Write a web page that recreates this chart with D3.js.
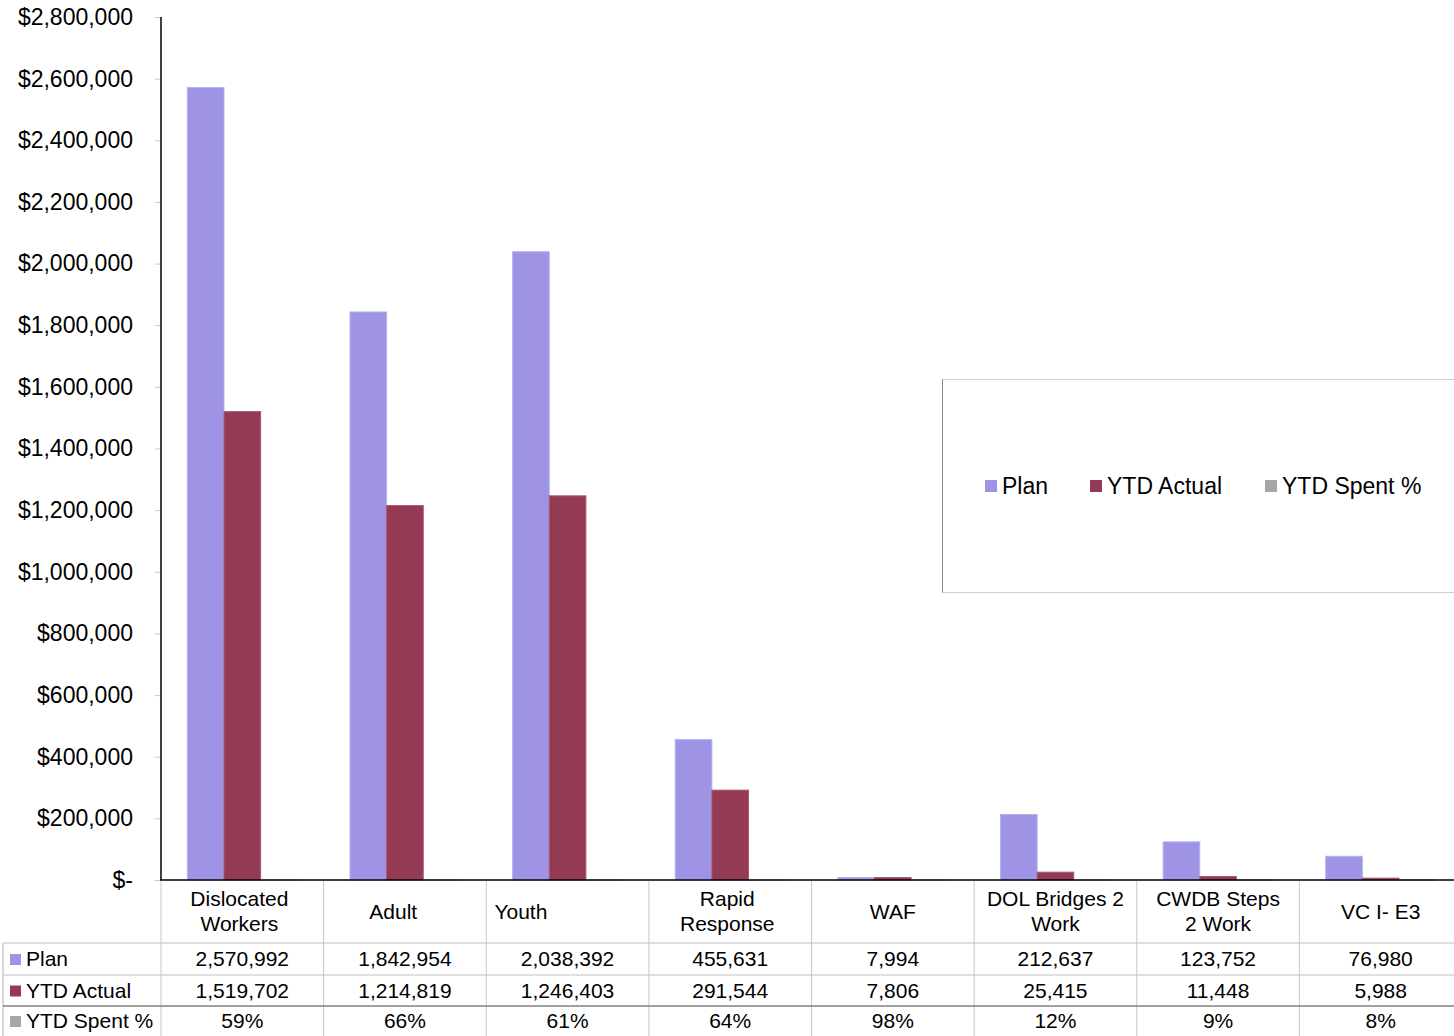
<!DOCTYPE html>
<html>
<head>
<meta charset="utf-8">
<script src="https://cdn.jsdelivr.net/npm/d3@7"></script>
<style>
  html, body { margin: 0; padding: 0; background: #fff; overflow: hidden; }
  svg { display: block; font-family: "Liberation Sans", Arial, sans-serif; }
  .cat-label { white-space: pre; }
</style>
</head>
<body>
<svg id="chart" width="1454" height="1036"></svg>
<script>
// Program budget data
const categories = ["Dislocated Workers", "Adult", "Youth", "Rapid Response", "WAF",
                    "DOL Bridges 2 Work", "CWDB Steps 2 Work", "VC I- E3"];
// header cell text as entered (some cells carry trailing blanks)
const categoryLines = [["Dislocated ", "Workers "], ["Adult    "], ["Youth                "],
                       ["Rapid ", "Response "], ["WAF"], ["DOL Bridges 2", "Work"],
                       ["CWDB Steps", "2 Work"], ["VC I- E3"]];
const planValues = [2570992, 1842954, 2038392, 455631, 7994, 212637, 123752, 76980];
const actualValues = [1519702, 1214819, 1246403, 291544, 7806, 25415, 11448, 5988];
const spentPct = [0.59, 0.66, 0.61, 0.64, 0.98, 0.12, 0.09, 0.08];
const seriesNames = ["Plan", "YTD Actual", "YTD Spent %"];
const yTicks = [0, 200000, 400000, 600000, 800000, 1000000, 1200000, 1400000,
                1600000, 1800000, 2000000, 2200000, 2400000, 2600000, 2800000];

const colors = { "Plan": "#9F93E6", "YTD Actual": "#953A54", "YTD Spent %": "#A6A6A6" };
const strokes = { "Plan": "#A9B8EA", "YTD Actual": "#A8576C", "YTD Spent %": "#BDBDBD" };

const svg = d3.select("#chart");
const plotLeft = 161, plotRight = 1462, plotTop = 17, plotBase = 880;
const viewRight = 1454;

const x0 = d3.scaleBand().domain(categories).range([plotLeft, plotRight]).paddingInner(0).paddingOuter(0);
const x1 = d3.scaleBand().domain(seriesNames).range([0, x0.bandwidth()]).paddingInner(0).paddingOuter(0.72);
const y = d3.scaleLinear().domain([0, 2800000]).range([plotBase, plotTop]);

const fmtMoney = v => v === 0 ? "$-" : "$" + d3.format(",")(v);
const fmtNum = d3.format(",");
const fmtPct = d3.format(".0%");

// Y axis
const yAxis = d3.axisLeft(y).tickValues(yTicks).tickFormat(fmtMoney).tickSize(6).tickPadding(22);
const gy = svg.append("g").attr("transform", `translate(${plotLeft},0)`).call(yAxis);
gy.select(".domain").remove();
gy.selectAll(".tick line").attr("stroke", "#c8c8c8");
gy.selectAll(".tick text").attr("font-size", 23).attr("fill", "#000")
  .attr("font-family", "'Liberation Sans', Arial, sans-serif");
svg.append("line").attr("x1", plotLeft).attr("x2", plotLeft).attr("y1", plotTop).attr("y2", plotBase)
  .attr("stroke", "#000").attr("stroke-width", 1.5);

// Bars
const rows = categories.map((c, i) => ({
  cat: c,
  values: [
    { s: "Plan", v: planValues[i] },
    { s: "YTD Actual", v: actualValues[i] },
    { s: "YTD Spent %", v: spentPct[i] }
  ]
}));
const groups = svg.append("g").selectAll("g").data(rows).join("g")
  .attr("transform", d => `translate(${x0(d.cat)},0)`);
groups.selectAll("rect").data(d => d.values).join("rect")
  .attr("x", d => x1(d.s))
  .attr("width", x1.bandwidth())
  .attr("y", d => y(d.v))
  .attr("height", d => Math.max(0, plotBase - y(d.v)))
  .attr("fill", d => colors[d.s])
  .attr("stroke", d => strokes[d.s])
  .attr("stroke-width", 1);

// X axis baseline
svg.append("line").attr("x1", plotLeft - 1).attr("x2", viewRight).attr("y1", plotBase).attr("y2", plotBase)
  .attr("stroke", "#000").attr("stroke-width", 1.5);

// Data table under the plot
const tableLeft = 3;
const rowY = [943, 975, 1006, 1036];
const tbl = svg.append("g");
// vertical grid lines
categories.forEach(c => {
  tbl.append("line").attr("x1", x0(c)).attr("x2", x0(c)).attr("y1", plotBase + 1).attr("y2", 1036)
    .attr("stroke", "#c8c8c8");
});
tbl.append("line").attr("x1", tableLeft).attr("x2", tableLeft).attr("y1", rowY[0]).attr("y2", 1036)
  .attr("stroke", "#b0b0b0");
// horizontal grid lines
rowY.slice(0, 3).forEach((ry, i) => {
  tbl.append("line").attr("x1", tableLeft).attr("x2", viewRight).attr("y1", ry).attr("y2", ry)
    .attr("stroke", i === 2 ? "#808080" : "#c0c0c0").attr("stroke-width", i === 2 ? 1.3 : 1);
});

// category labels (centred in their cells, blanks included)
categories.forEach((c, i) => {
  const lines = categoryLines[i];
  const cx = x0(c) + x0.bandwidth() / 2;
  const t = tbl.append("text")
    .attr("class", "cat-label")
    .attr("font-size", 21).attr("fill", "#000")
    .attr("text-anchor", "middle");
  const startY = lines.length === 1 ? 911.5 : 899;
  lines.forEach((ln, k) => {
    t.append("tspan")
      .attr("x", cx)
      .attr("y", startY + k * 25)
      .attr("dy", "0.35em")
      .text(ln);
  });
});

// table rows
const tableRows = [
  { name: "Plan", vals: planValues.map(fmtNum) },
  { name: "YTD Actual", vals: actualValues.map(fmtNum) },
  { name: "YTD Spent %", vals: spentPct.map(fmtPct) }
];
tableRows.forEach((r, i) => {
  const cy = (rowY[i] + rowY[i + 1]) / 2;
  tbl.append("rect").attr("x", 10).attr("y", cy - 5).attr("width", 11).attr("height", 11)
    .attr("fill", colors[r.name]);
  tbl.append("text").attr("x", 26).attr("y", cy).attr("dy", "0.35em")
    .attr("font-size", 21).attr("fill", "#000").text(r.name);
  r.vals.forEach((v, j) => {
    tbl.append("text").attr("x", x0(categories[j]) + x0.bandwidth() / 2).attr("y", cy)
      .attr("dy", "0.35em").attr("text-anchor", "middle")
      .attr("font-size", 21).attr("fill", "#000").text(v);
  });
});

// Legend
const lg = svg.append("g");
lg.append("rect").attr("x", 942.5).attr("y", 379.5).attr("width", 530).attr("height", 213)
  .attr("fill", "#fff").attr("stroke", "#cfcfcf");
lg.append("line").attr("x1", 942.5).attr("x2", 942.5).attr("y1", 379.5).attr("y2", 592.5)
  .attr("stroke", "#888");
const legendX = [985, 1090, 1265];
seriesNames.forEach((s, i) => {
  lg.append("rect").attr("x", legendX[i]).attr("y", 480).attr("width", 12).attr("height", 12)
    .attr("fill", colors[s]);
  lg.append("text").attr("x", legendX[i] + 17).attr("y", 486).attr("dy", "0.35em")
    .attr("font-size", 23).attr("fill", "#000").text(s);
});
</script>
</body>
</html>
